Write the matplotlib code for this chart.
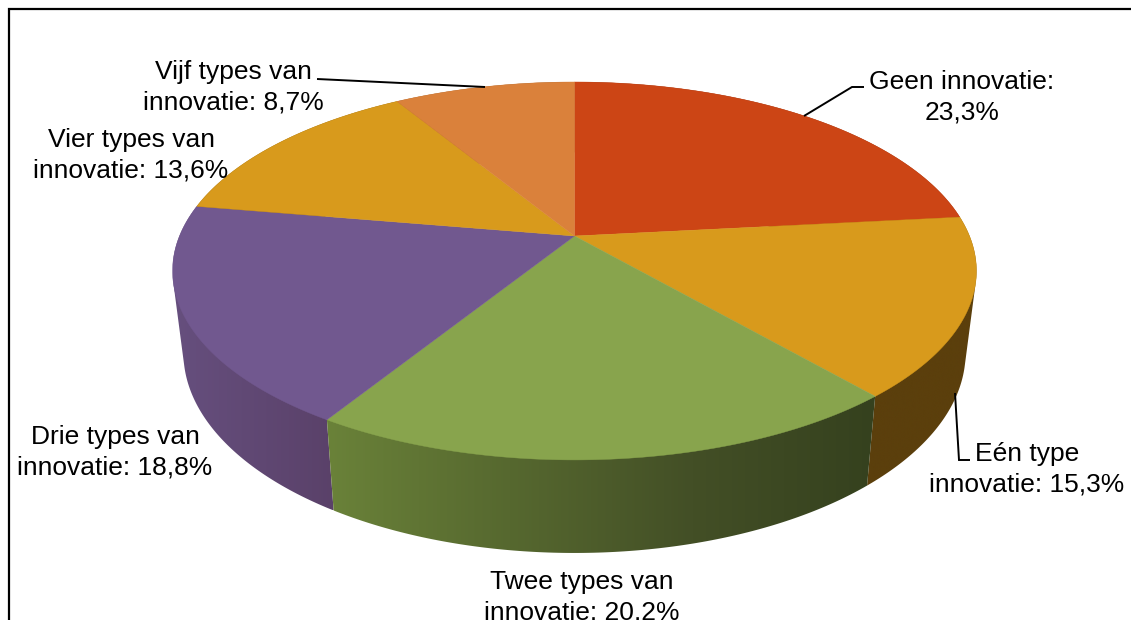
import numpy as np
import matplotlib
matplotlib.use("Agg")
import matplotlib.pyplot as plt
from matplotlib.colors import LinearSegmentedColormap
from matplotlib.patches import Polygon

plt.rcParams["font.family"] = ["Liberation Sans", "DejaVu Sans"]

# Data
values = [23.3, 15.3, 20.2, 18.8, 13.6, 8.7]
labels = [
    "Geen innovatie:\n23,3%",
    "Eén type\ninnovatie: 15,3%",
    "Twee types van\ninnovatie: 20,2%",
    "Drie types van\ninnovatie: 18,8%",
    "Vier types van\ninnovatie: 13,6%",
    "Vijf types van\ninnovatie: 8,7%",
]
top_colors = ["#CC4515", "#D89A1C", "#88A44D", "#71588F", "#D89A1C", "#DA813B"]
side_colors = [
    ["#6a2409", "#6a2409"],
    ["#5b3f0c", "#5b3f0c"],
    ["#6a8239", "#56682f", "#434f26", "#35411e"],
    ["#664f7e", "#5a4169"],
    ["#5b3f0c", "#5b3f0c"],
    ["#7a4a20", "#7a4a20"],
]
label_pos = [(962, 97), (1027, 469), (582, 597), (115, 452), (131, 155), (233, 87)]
leaders = [
    [(804, 116), (852, 87), (864, 87)],
    [(955, 393), (959, 460), (970, 460)],
    None,
    None,
    None,
    [(317, 79), (485, 87)],
]

# Projection of the pie disc in picture pixels
CX, CY = 574.5, 236
K_X, K_Y, PERSP = 395, 182.5, 0.185
MID_Y = 271
BOTTOM_SX, BOTTOM_SY, BOTTOM_Y = 0.973, 1.06, 352.7


def top_rim(theta):
    d = 1 + PERSP * np.cos(theta)
    return CX + K_X * np.sin(theta) / d, CY - K_Y * np.cos(theta) / d


def bottom_rim(theta):
    x, y = top_rim(theta)
    return CX + BOTTOM_SX * (x - CX), BOTTOM_Y + BOTTOM_SY * (y - MID_Y)


def convex_hull(pts):
    pts = sorted(map(tuple, pts))

    def half(seq):
        out = []
        for p in seq:
            while len(out) > 1 and (out[-1][0] - out[-2][0]) * (p[1] - out[-2][1]) - (out[-1][1] - out[-2][1]) * (p[0] - out[-2][0]) <= 0:
                out.pop()
            out.append(p)
        return out[:-1]

    return np.array(half(pts) + half(pts[::-1]))


fig = plt.figure(figsize=(11.31, 6.2), dpi=100)
ax = fig.add_axes([0, 0, 1, 1])

edges = np.cumsum([0] + values) / np.sum(values) * 2 * np.pi

# Sides first, back slices before front ones
for i in [0, 4, 5, 3, 1, 2]:
    theta = np.linspace(edges[i], edges[i + 1], 120)
    xt, yt = top_rim(theta)
    xb, yb = bottom_rim(theta)
    pts = convex_hull(np.r_[np.c_[xt, yt], np.c_[xb, yb]])
    poly = Polygon(pts, closed=True, facecolor="none", edgecolor="none", transform=ax.transData)
    ax.add_patch(poly)
    cmap = LinearSegmentedColormap.from_list(f"side{i}", side_colors[i])
    extent = (pts[:, 0].min(), pts[:, 0].max(), pts[:, 1].max(), pts[:, 1].min())
    im = ax.imshow(np.linspace(0, 1, 256)[None, :], cmap=cmap, extent=extent, aspect="auto", zorder=2)
    im.set_clip_path(poly)

# Top face
for i in range(len(values)):
    theta = np.linspace(edges[i], edges[i + 1], 200)
    xt, yt = top_rim(theta)
    pts = np.r_[[[CX, CY]], np.c_[xt, yt]]
    ax.add_patch(Polygon(pts, closed=True, facecolor=top_colors[i], edgecolor=top_colors[i], lw=0.3, zorder=3))

# Leader lines and labels
for line in leaders:
    if line is not None:
        ax.plot(*zip(*line), color="black", lw=1.4, zorder=4, solid_capstyle="butt", solid_joinstyle="miter")

for text, (x, y) in zip(labels, label_pos):
    ax.text(x, y, text, ha="center", va="center", multialignment="center",
            fontsize=19, linespacing=1.32, color="black", zorder=5)

# Outer frame, open at the right side
ax.plot([9, 9, 1131], [620, 9, 9], color="black", lw=1.6, zorder=6, solid_joinstyle="miter")

ax.set_xlim(0, 1131)
ax.set_ylim(620, 0)
ax.axis("off")

fig.savefig("out.png", dpi=100)
plt.close(fig)
